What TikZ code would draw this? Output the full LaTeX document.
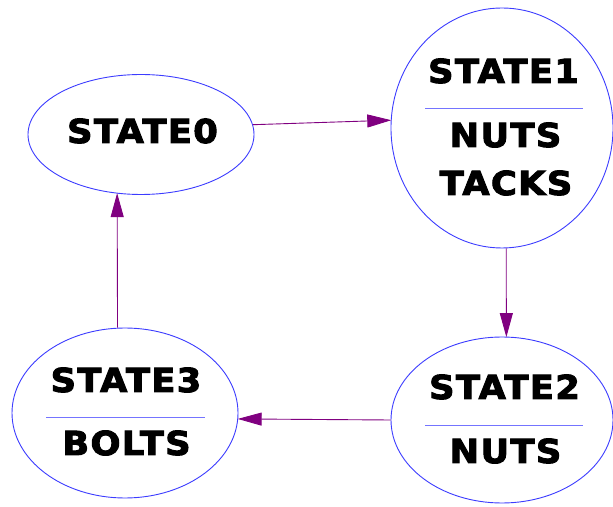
\documentclass[tikz,border=0pt]{standalone}
\usepackage{fontspec}
\setmainfont{DejaVu Sans}
\newfontfamily\stfont[LetterSpace=4,FakeStretch=1.07,FakeBold=3]{DejaVu Sans}
\usetikzlibrary{shapes.geometric,arrows.meta}
\definecolor{ringblue}{HTML}{3C3CFF}
\definecolor{divblue}{HTML}{7474FF}
\definecolor{arrowpurple}{HTML}{800080}
\tikzset{
  stbox/.style={draw=ringblue, line width=0.9pt, ellipse, inner sep=0pt, fill=white},
  lbl/.style={anchor=base, inner sep=0pt, font=\stfont\bfseries\fontsize{33}{40}\selectfont},
  divider/.style={draw=divblue, line width=0.9pt},
  trans/.style={draw=arrowpurple, line width=0.9pt, -{Triangle[length=24pt,width=13pt]}, shorten >=-0.5pt},
}
\begin{document}
\begin{tikzpicture}[x=1pt,y=1pt]
\useasboundingbox (0,0) rectangle (613,506);
% states
\node[stbox, minimum width=226pt, minimum height=120pt] (s0) at (141,371.5) {};
\node[stbox, minimum width=222pt, minimum height=240pt] (s1) at (502,378) {};
\node[stbox, minimum width=222pt, minimum height=166pt] (s2) at (502,86) {};
\node[stbox, minimum width=226pt, minimum height=170pt] (s3) at (125,93) {};
% labels
\node[lbl] (t0) at (142.5,363) {STATE0};
\node[lbl] (t1) at (503.5,423) {STATE1};
\node[lbl] (t1a) at (505.5,359) {NUTS};
\node[lbl] (t1b) at (506,311) {TACKS};
\node[lbl] (t2) at (504.5,107) {STATE2};
\node[lbl] (t2a) at (505.5,43) {NUTS};
\node[lbl] (t3) at (126,114) {STATE3};
\node[lbl] (t3a) at (126.5,51) {BOLTS};
% dividers
\coordinate (d1l) at (425,398); \coordinate (d1r) at (583,398);
\coordinate (d2l) at (425,81);  \coordinate (d2r) at (583,81);
\coordinate (d3l) at (46,89);   \coordinate (d3r) at (205,89);
\draw[divider] (d1l) -- (d1r);
\draw[divider] (d2l) -- (d2r);
\draw[divider] (d3l) -- (d3r);
% transitions
\draw[trans] (s0.5.7) -- (s1.176);
\draw[trans] (s1.-88) -- (s2.87);
\draw[trans] (s2.180) -- (s3.-3.5);
\draw[trans] (s3.95.4) -- (s0.248.4);
\end{tikzpicture}
\end{document}
